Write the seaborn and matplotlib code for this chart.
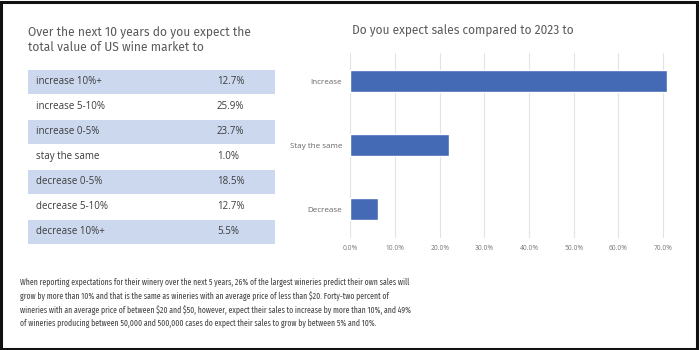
import pandas as pd
import matplotlib.pyplot as plt
import seaborn as sns
from matplotlib.patches import Rectangle
from matplotlib.ticker import PercentFormatter

# Left table: expectations for the total US wine market
market_labels = ["increase 10%+", "increase 5-10%", "increase 0-5%", "stay the same",
                 "decrease 0-5%", "decrease 5-10%", "decrease 10%+"]
market_values = [12.7, 25.9, 23.7, 1.0, 18.5, 12.7, 5.5]

# Right bar chart: expected sales compared to 2023
sales_labels = ["Increase", "Stay the same", "Decrease"]
sales_values = [0.709, 0.221, 0.061]
sales_ticks = [0.0, 0.1, 0.2, 0.3, 0.4, 0.5, 0.6, 0.7]

note = ("When reporting expectations for their winery over the next 5 years, 26% of the largest wineries predict their own sales will\n"
        "grow by more than 10% and that is the same as wineries with an average price of less than \\$20. Forty-two percent of\n"
        "wineries with an average price of between \\$20 and \\$50, however, expect their sales to increase by more than 10%, and 49%\n"
        "of wineries producing between 50,000 and 500,000 cases do expect their sales to grow by between 5% and 10%.")

sns.set_theme(style="white")
plt.rcParams['font.family'] = ['Open Sans', 'DejaVu Sans']
title_font = ['Fira Sans', 'Open Sans', 'DejaVu Sans']
note_font = ['Fira Sans Extra Condensed', 'Liberation Sans', 'DejaVu Sans']

fig = plt.figure(figsize=(7, 3.5), dpi=100)
fig.patch.set_facecolor("white")

# Frame round the whole picture
fig.add_artist(Rectangle((0.002, 0.004), 0.994, 0.99, transform=fig.transFigure,
                         fill=False, edgecolor="#111111", linewidth=2.2))

title_color = "#5a5a5a"
fig.text(0.04, 0.923, "Over the next 10 years do you expect the\ntotal value of US wine market to",
         fontsize=8.7, color=title_color, va="top", ha="left", linespacing=1.2, family=title_font)
fig.text(0.503, 0.913, "Do you expect sales compared to 2023 to",
         fontsize=8.6, color=title_color, va="center", ha="left", family=title_font)

# Table drawn on its own axes, one row per category
tab = fig.add_axes([0.04, 1 - 244 / 350, 247 / 700, 175 / 350])
tab.set_xlim(0, 1)
tab.set_ylim(len(market_labels) - 0.5, -0.5)
for i, (lab, val) in enumerate(zip(market_labels, market_values)):
    if i % 2 == 0:
        tab.axhspan(i - 0.48, i + 0.48, color="#cbd8ee", lw=0)
    tab.text(0.032, i, lab, va="center", ha="left", fontsize=7.0, color="#3c3c3c")
    tab.text(0.765, i, f"{val:.1f}%", va="center", ha="left", fontsize=7.0, color="#3c3c3c")
tab.axis("off")

# Horizontal bar chart
ax = fig.add_axes([350.3 / 700, 1 - 238 / 350, (667.5 - 350.3) / 700, 185 / 350])
df = pd.DataFrame({"answer": sales_labels, "share": sales_values})
sns.barplot(data=df, x="share", y="answer", color="#4469b5", width=0.35,
            saturation=1, ax=ax)
ax.set_xlim(0, 0.71)
ax.set_ylim(2.45, -0.44)
ax.set_xticks(sales_ticks)
ax.xaxis.set_major_formatter(PercentFormatter(1.0, decimals=1))
ax.grid(axis="x", color="#e3e3e3", linewidth=0.8)
ax.set_axisbelow(True)
for s in ax.spines.values():
    s.set_visible(False)
ax.set_xlabel("")
ax.set_ylabel("")
ax.tick_params(axis="x", labelsize=4.8, colors="#777777", length=0, pad=5)
ax.tick_params(axis="y", labelsize=5.8, colors="#666666", length=0, pad=6)

fig.text(0.029, 0.205, note, fontsize=6.05, color="#444444", va="top", ha="left",
         linespacing=1.48, family=note_font)

fig.savefig("out.png", dpi=100)
